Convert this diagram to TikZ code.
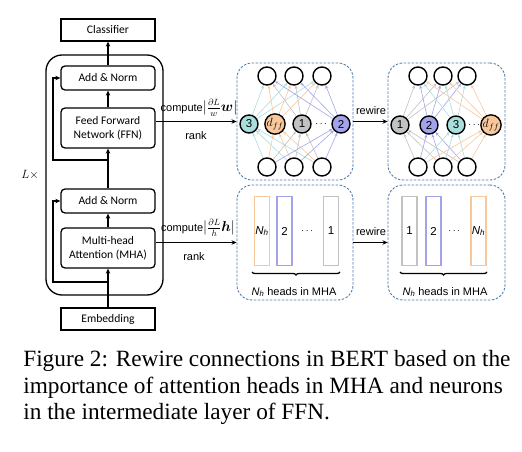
\documentclass[tikz,border=0pt]{standalone}
\usepackage{amsmath,amssymb}
\usepackage{fontspec}
\setmainfont{Liberation Serif}
\setsansfont{Liberation Sans}
\newfontfamily\blockfont{Carlito}
\usepackage{tikz}
\usetikzlibrary{calc}
\usetikzlibrary{positioning}
\usetikzlibrary{arrows.meta}
\usetikzlibrary{backgrounds}
\usetikzlibrary{decorations.pathreplacing}
\definecolor{neuCyan}{HTML}{A9DEDD}
\definecolor{neuOrange}{HTML}{F9C79C}
\definecolor{neuGray}{HTML}{C2C2C2}
\definecolor{neuPurple}{HTML}{A3A3EA}
\definecolor{dashBlue}{HTML}{4C7BAE}
\tikzset{every picture/.style={semithick, >=Stealth}}
\newcommand{\grad}[1]{{\fontsize{13.5}{15}\selectfont$|\frac{\partial L}{#1}\boldsymbol{#1}|$}}

\begin{document}
\begin{tikzpicture}[x=1pt,y=-1pt,
    block/.style={draw,line width=1.3pt,rounded corners=4pt,minimum width=94pt,align=center,
        font=\blockfont\fontsize{11.6}{14}\selectfont},
    endbox/.style={block,rounded corners=0pt,minimum height=22pt},
    dbox/.style={draw=dashBlue,line width=0.9pt,dash pattern=on 2.4pt off 1.6pt,rounded corners=15pt,
        minimum width=116pt},
    neuron/.style={circle,draw,line width=1.4pt,minimum size=18pt,inner sep=0pt,fill=white,
        font=\sffamily\fontsize{11.5}{13}\selectfont},
    edge/.style={line width=0.6pt,-{Stealth[length=3.5pt,width=3pt]}},
    head/.style={draw,line width=1.1pt,minimum width=15pt,minimum height=69pt,inner sep=0pt,
        font=\sffamily\fontsize{11.5}{13}\selectfont},
    lbl/.style={font=\sffamily\fontsize{11}{13}\selectfont,inner sep=1pt},
    flow/.style={line width=1.3pt,-{Stealth[length=5pt,width=4.5pt]}},
    capline/.style={anchor=base west,inner sep=0pt,font=\fontsize{23.3}{27}\selectfont}]
\useasboundingbox (0,0) rectangle (522,452);

% BERT layer
\node[endbox] (cls) at (108,30) {Classifier};
\node[draw,line width=1.3pt,rounded corners=16pt,minimum width=117pt,minimum height=240pt] (layer) at (104.5,175) {};
\node[block,minimum height=24pt] (an2) at (108,78) {Add \& Norm};
\node[block,minimum height=40pt] (ffn) at (108,128) {Feed Forward\\Network (FFN)};
\node[block,minimum height=24pt] (an1) at (108,201) {Add \& Norm};
\node[block,minimum height=40pt] (mha) at (108,248) {Multi-head\\Attention (MHA)};
\node[endbox] (emb) at (108,319) {Embedding};
\node[font=\fontsize{12.5}{14}\selectfont] (lx) at (30,175) {$L\times$};

\draw[flow] (emb) -- (mha);
\draw[flow] (mha) -- (an1);
\draw[flow] (an1) -- (ffn);
\draw[flow] (ffn) -- (an2);
\draw[flow] (an2) -- (cls);
\coordinate (res1) at (108,282);
\coordinate (res2) at (108,160);
\draw[flow] (res1) -- (53,282) |- (an1.west);
\draw[flow] (res2) -- (53,160) |- (an2.west);

% dashed panels
\node[dbox,minimum height=117pt] (ffnA) at (295,121.5) {};
\node[dbox,minimum height=117pt,minimum width=117pt] (ffnB) at (446.5,121.5) {};
\node[dbox,minimum height=115pt] (mhaA) at (295,242.5) {};
\node[dbox,minimum height=115pt,minimum width=117pt] (mhaB) at (446.5,242.5) {};

\draw[flow] (ffn.east |- ffnA.west) -- (ffnA.west);
\node[lbl] (cmpw) at (199,108) {compute\grad{w}};
\node[lbl] (rkw) at (196,136) {rank};
\draw[flow] (mha.east |- mhaA.west) -- (mhaA.west);
\node[lbl] (cmph) at (198,228) {compute\grad{h}};
\node[lbl] (rkh) at (194,257) {rank};

\draw[flow] (ffnA.east) -- (ffnB.west);
\node[lbl] (rw1) at (371,111) {rewire};
\draw[flow] (mhaA.east) -- (mhaB.west);
\node[lbl] (rw2) at (371,232) {rewire};

% FFN neurons, before
\node[neuron] (tA1) at (267,76) {};
\node[neuron] (tA2) at (294,76) {};
\node[neuron] (tA3) at (322,76) {};
\node[neuron] (bA1) at (267,167) {};
\node[neuron] (bA2) at (294,167) {};
\node[neuron] (bA3) at (322,167) {};
\node[neuron,fill=neuCyan] (mA1) at (249,124) {3};
\node[neuron,fill=neuOrange] (mA2) at (275,124) {$d_{ff}$};
\node[neuron,fill=neuGray] (mA3) at (302,124) {1};
\node[neuron,fill=neuPurple] (mA4) at (341,124) {2};
\node (dotA) at (322,124) {$\cdots$};

% FFN neurons, after
\node[neuron] (tB1) at (418,76) {};
\node[neuron] (tB2) at (443,76) {};
\node[neuron] (tB3) at (467,76) {};
\node[neuron] (bB1) at (418,167) {};
\node[neuron] (bB2) at (443,167) {};
\node[neuron] (bB3) at (467,167) {};
\node[neuron,fill=neuGray] (mB1) at (400,125) {1};
\node[neuron,fill=neuPurple] (mB2) at (429,125) {2};
\node[neuron,fill=neuCyan] (mB3) at (456,125) {3};
\node[neuron,fill=neuOrange] (mB4) at (491,125) {$d_{ff}$};
\node (dotB) at (475,125) {$\cdots$};

\begin{scope}[on background layer]
\foreach \m/\c in {mA1/neuCyan,mA2/neuOrange,mA3/neuGray,mA4/neuPurple} {
    \foreach \i in {1,2,3} {
        \draw[edge,\c] (\m) -- (tA\i);
        \draw[edge,\c] (bA\i) -- (\m);
    }
}
\foreach \m/\c in {mB1/neuGray,mB2/neuPurple,mB3/neuCyan,mB4/neuOrange} {
    \foreach \i in {1,2,3} {
        \draw[edge,\c] (\m) -- (tB\i);
        \draw[edge,\c] (bB\i) -- (\m);
    }
}
\end{scope}

% attention heads, before
\node[head,draw=neuOrange] (hA1) at (262,231) {\itshape N\textsubscript{h}};
\node[head,draw=neuPurple] (hA2) at (284.5,231) {2};
\node[head,draw=neuGray] (hA3) at (331,231) {1};
\node (hdotA) at (308,231) {$\cdots$};
\draw[line width=1.3pt,decorate,decoration={brace,mirror,amplitude=3pt}] (252,272) -- (340,272);
\node[lbl] (hlA) at (294,292) {\itshape N\textsubscript{h}\upshape\ heads in MHA};

% attention heads, after
\node[head,draw=neuGray] (hB1) at (409.5,231) {1};
\node[head,draw=neuPurple] (hB2) at (433.5,231) {2};
\node[head,draw=neuOrange] (hB3) at (478.5,231) {\itshape N\textsubscript{h}};
\node (hdotB) at (455,231) {$\cdots$};
\draw[line width=1.3pt,decorate,decoration={brace,mirror,amplitude=3pt}] (400,272) -- (487,272);
\node[lbl] (hlB) at (445,292) {\itshape N\textsubscript{h}\upshape\ heads in MHA};

% caption
\node[capline] (cap1) at (23,366) {Figure 2: Rewire connections in BERT based on the};
\node[capline] (cap2) at (23,393) {importance of attention heads in MHA and neurons};
\node[capline] (cap3) at (23,419) {in the intermediate layer of FFN.};
\end{tikzpicture}
\end{document}
